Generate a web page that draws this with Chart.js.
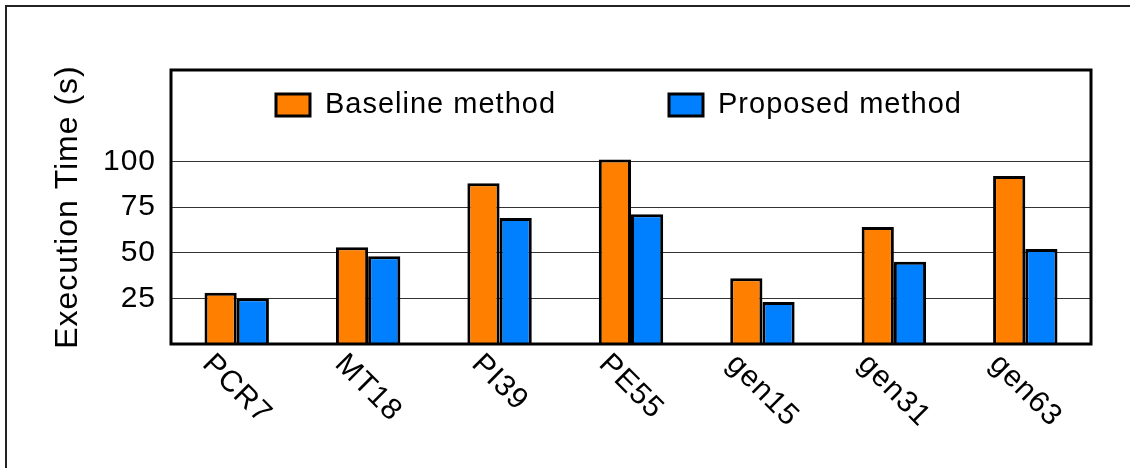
<!DOCTYPE html>
<html>
<head>
<meta charset="utf-8">
<script src="https://cdn.jsdelivr.net/npm/chart.js@4"></script>
<style>
  html, body { margin: 0; padding: 0; background: #fff; }
  #wrap { width: 1130px; height: 468px; }
</style>
</head>
<body>
<div id="wrap"><canvas id="grafico"></canvas></div>
<script>
// dados
const categorias = ["PCR7", "MT18", "PI39", "PE55", "gen15", "gen31", "gen63"];
const baseline = [28, 53, 88, 101, 36, 64, 92];
const proposto = [25, 48, 69, 71, 23, 45, 52];
const ticksY = [25, 50, 75, 100];
const nomes = ["Baseline method", "Proposed method"];

const FONTE = "'Liberation Sans', Arial, sans-serif";

// moldura, legenda e rótulos do eixo x
const extras = {
  id: "extras",
  beforeDraw(chart) {
    const c = chart.ctx;
    c.letterSpacing = "1px"; // vale para o texto desenhado pelo Chart.js
    c.save();
    c.strokeStyle = "#222";
    c.lineWidth = 2;
    c.beginPath();
    c.moveTo(6, 480);
    c.lineTo(6, 6);
    c.lineTo(1140, 6);
    c.stroke();
    c.restore();
  },
  afterDatasetsDraw(chart) {
    const c = chart.ctx;
    const a = chart.chartArea;
    c.save();
    c.strokeStyle = "#000";
    c.lineWidth = 3;
    c.strokeRect(a.left, a.top, a.right - a.left, a.bottom - a.top);

    // legenda dentro da área
    const posLeg = [276, 669];
    c.letterSpacing = "1px";
    c.font = "29px " + FONTE;
    c.textBaseline = "middle";
    c.textAlign = "left";
    chart.data.datasets.forEach((ds, i) => {
      c.fillStyle = ds.backgroundColor;
      c.fillRect(posLeg[i], 94, 34, 22);
      c.lineWidth = 3;
      c.strokeStyle = "#000";
      c.strokeRect(posLeg[i], 94, 34, 22);
      c.fillStyle = "#000";
      c.fillText(ds.label, posLeg[i] + 49, 105);
    });

    // rótulos inclinados
    const x = chart.scales.x;
    c.font = "30px " + FONTE;
    c.textAlign = "center";
    c.textBaseline = "middle";
    chart.data.labels.forEach((lab, i) => {
      const px = x.getPixelForValue(i);
      const w = c.measureText(lab).width;
      const meio = (w + 24) * Math.SQRT1_2 / 2;
      c.save();
      c.translate(px, 351 + meio);
      c.rotate(Math.PI / 4);
      c.fillText(lab, 0, 0);
      c.restore();
    });
    c.restore();
  }
};

const data = {
  labels: categorias,
  datasets: [
    {
      label: nomes[0],
      data: baseline,
      backgroundColor: "#FF8000",
      borderColor: "#000",
      borderWidth: 3,
    },
    {
      label: nomes[1],
      data: proposto,
      backgroundColor: "#0080FF",
      borderColor: "#000",
      borderWidth: 3,
    },
  ],
};

const config = {
  type: "bar",
  data: data,
  options: {
    responsive: true,
    maintainAspectRatio: false,
    animation: false,
    layout: { padding: { left: 0, top: 70, right: 39, bottom: 124 } },
    datasets: { bar: { categoryPercentage: 0.49, barPercentage: 1 } },
    plugins: {
      legend: { display: false },
      tooltip: { enabled: false },
    },
    scales: {
      x: {
        grid: { display: false },
        border: { display: false },
        ticks: { display: false },
        afterFit(s) { s.height = 0; },
      },
      y: {
        min: 0,
        max: 150,
        afterFit(s) { s.width = 171; },
        afterBuildTicks(s) {
          s.ticks = [0].concat(ticksY, [150]).map(v => ({ value: v }));
        },
        border: { display: false },
        grid: {
          drawTicks: false,
          color: (ctx) => (ticksY.includes(ctx.tick.value) ? "#333" : "rgba(0,0,0,0)"),
          lineWidth: 1,
        },
        ticks: {
          padding: 15,
          color: "#000",
          font: { family: FONTE, size: 30 },
          callback: (v) => (ticksY.includes(v) ? v : ""),
        },
        title: {
          display: true,
          text: "Execution Time (s)",
          color: "#000",
          font: { family: FONTE, size: 32 },
          padding: { top: 49, bottom: 0 },
        },
      },
    },
  },
  plugins: [extras],
};

new Chart(document.getElementById("grafico").getContext("2d"), config);
</script>
</body>
</html>
